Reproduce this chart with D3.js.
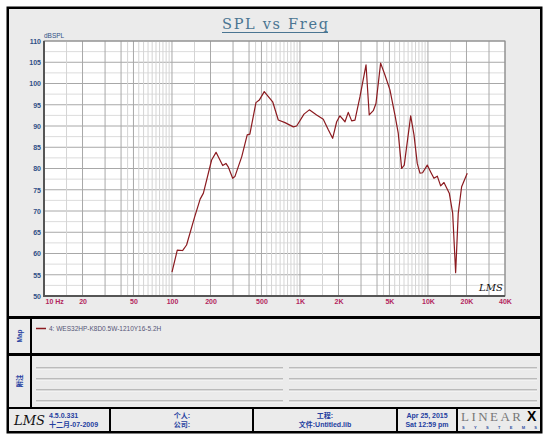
<!DOCTYPE html>
<html>
<head>
<meta charset="utf-8">
<script src="https://cdn.jsdelivr.net/npm/d3@7"></script>
<style>
  body { margin: 0; background: #fff; }
  svg text { font-family: "Liberation Sans", Arial, sans-serif; }
  .yax text { fill: #2f4f86; font-size: 7px; font-weight: bold; }
  .xax text { fill: #b3265e; font-size: 7px; font-weight: bold; }
  .yax path, .xax path, .yax line, .xax line { display: none; }
  .foot { fill: #2440a0; font-size: 7px; font-weight: bold; }
</style>
</head>
<body>
<svg id="chart" width="550" height="440"></svg>
<script>
// frequency response
const freqHz = [100, 110, 121, 130, 150, 166, 176, 204, 221, 249, 264, 275, 298, 310, 351, 387, 406, 453, 481, 526,
  612, 677, 764, 887, 942, 1075, 1183, 1350, 1521, 1665, 1800, 1936, 2053, 2249, 2384, 2535, 2690, 2944, 3282, 3477,
  3740, 3925, 4268, 4613, 5047, 5520, 5860, 6232, 6530, 7330, 7780, 8250, 8660, 9080, 9880, 10500, 11140, 11830,
  12570, 13340, 14680, 15600, 16460, 17250, 18330, 20280];
const splDb = [55.6, 60.8, 60.7, 62, 68.5, 72.8, 74.2, 82, 83.8, 80.7, 81.2, 80.4, 77.7, 78.1, 82.8, 87.9, 88.1, 95.5, 96.1, 98.1,
  95.7, 91.4, 90.8, 89.8, 90, 92.8, 93.8, 92.6, 91.6, 89.1, 87.1, 91, 92.4, 91, 93.2, 91.2, 91.4, 96.9, 104.4, 92.6,
  93.6, 95.3, 104.8, 102, 98.5, 92.6, 88.3, 80, 80.8, 92.4, 87.9, 81.2, 78.9, 79, 80.8, 79.2, 77.7, 78.2,
  75.9, 76.7, 74.2, 69.5, 55.5, 69.5, 75.7, 78.9];

const yTicks = [50, 55, 60, 65, 70, 75, 80, 85, 90, 95, 100, 105, 110];
const xTickVals = [10, 20, 50, 100, 200, 500, 1000, 2000, 5000, 10000, 20000, 40000];
const xTickLabels = ['10  Hz', '20', '50', '100', '200', '500', '1K', '2K', '5K', '10K', '20K', '40K'];
const gridMult = [1, 1.5, 2, 3, 4, 4.5, 5, 5.5, 6, 6.5, 7, 7.5, 8, 8.5, 9, 9.5];
const legendLabel = '4: WES32HP-K8D0.5W-1210Y16-5.2H';

const svg = d3.select('#chart');

// outer frame and panels
svg.append('rect').attr('x', 8).attr('y', 8).attr('width', 533).attr('height', 424)
  .attr('fill', '#ebebeb').attr('stroke', '#000').attr('stroke-width', 3);

const panels = [[8, 8, 533, 309], [8, 318, 533, 36], [8, 355, 533, 53], [8, 408, 533, 24]];
panels.forEach(p => {
  svg.append('rect').attr('x', p[0]).attr('y', p[1]).attr('width', p[2]).attr('height', p[3])
    .attr('fill', '#ebebeb').attr('stroke', '#000').attr('stroke-width', 2);
});
// vertical dividers
[[31, 318, 354], [31, 355, 408], [110, 408, 432], [253, 408, 432], [397, 408, 432], [457, 408, 432]].forEach(d => {
  svg.append('line').attr('x1', d[0]).attr('x2', d[0]).attr('y1', d[1]).attr('y2', d[2])
    .attr('stroke', '#000').attr('stroke-width', 2);
});

// plot
const x = d3.scaleLog().domain([10, 40000]).range([44, 505]);
const y = d3.scaleLinear().domain([50, 110]).range([296, 41]);

svg.append('rect').attr('x', 44).attr('y', 41).attr('width', 461).attr('height', 255).attr('fill', '#fff');

// horizontal grid
const g = svg.append('g');
d3.range(50, 110.1, 2.5).forEach(v => {
  const major = v % 5 === 0;
  g.append('line').attr('x1', 44).attr('x2', 505).attr('y1', y(v)).attr('y2', y(v))
    .attr('stroke', major ? '#a8a8a8' : '#dcdcdc').attr('stroke-width', 1);
});
// vertical grid
[10, 100, 1000, 10000].forEach(dec => {
  gridMult.forEach(m => {
    const f = dec * m;
    if (f > 40000) return;
    const dark = [1, 2, 3, 4, 5].includes(m);
    g.append('line').attr('x1', x(f)).attr('x2', x(f)).attr('y1', 41).attr('y2', 296)
      .attr('stroke', dark ? '#a8a8a8' : '#d4d4d4').attr('stroke-width', 1);
  });
});

// plot border
svg.append('rect').attr('x', 44).attr('y', 41).attr('width', 461).attr('height', 255)
  .attr('fill', 'none').attr('stroke', '#888').attr('stroke-width', 1);
svg.append('path').attr('d', 'M44,41V296H505').attr('fill', 'none').attr('stroke', '#555').attr('stroke-width', 2);

// axes labels
svg.append('g').attr('class', 'yax').attr('transform', 'translate(44,0)')
  .call(d3.axisLeft(y).tickValues(yTicks).tickSize(0).tickPadding(3).tickFormat(d3.format('d')));

const xa = svg.append('g').attr('class', 'xax').attr('transform', 'translate(0,296)')
  .call(d3.axisBottom(x).tickValues(xTickVals).tickSize(0).tickPadding(3)
    .tickFormat((d, i) => xTickLabels[i]));
xa.selectAll('text').filter((d, i) => i === 0).attr('text-anchor', 'start').attr('dx', 1);

svg.append('text').attr('x', 44).attr('y', 38).attr('fill', '#2f4f86')
  .style('font-size', '6.5px').text('dBSPL');

// curve
const pts = freqHz.map((f, i) => [f, splDb[i]]);
svg.append('path').datum(pts)
  .attr('d', d3.line().x(d => x(d[0])).y(d => y(d[1])))
  .attr('fill', 'none').attr('stroke', '#8b1a1f').attr('stroke-width', 1.2)
  .attr('stroke-linejoin', 'round');

// title
svg.append('text').attr('x', 222).attr('y', 29).attr('fill', '#4a7592')
  .attr('textLength', 106).attr('lengthAdjust', 'spacing')
  .style('font-family', '"DejaVu Serif", serif').style('font-size', '14.5px').text('SPL vs Freq');
svg.append('line').attr('x1', 222).attr('x2', 328).attr('y1', 32.5).attr('y2', 32.5)
  .attr('stroke', '#4a7592').attr('stroke-width', 1);

// LMS marks
svg.append('text').attr('x', 479).attr('y', 291).attr('fill', '#111')
  .style('font-family', '"DejaVu Serif", serif').style('font-style', 'italic').style('font-size', '10px').text('LMS');
svg.append('text').attr('x', 14).attr('y', 425).attr('fill', '#111')
  .attr('textLength', 31).attr('lengthAdjust', 'spacingAndGlyphs')
  .style('font-family', '"DejaVu Serif", serif').style('font-style', 'italic').style('font-size', '13px').text('LMS');

// map row
svg.append('line').attr('x1', 36).attr('x2', 46).attr('y1', 328.5).attr('y2', 328.5)
  .attr('stroke', '#8b1a1f').attr('stroke-width', 1.5);
svg.append('text').attr('x', 49).attr('y', 331).attr('fill', '#555577')
  .style('font-size', '6.5px').text(legendLabel);
svg.append('text').attr('transform', 'translate(22,336) rotate(-90)').attr('text-anchor', 'middle')
  .attr('class', 'foot').style('font-size', '6.5px').text('Map');
svg.append('text').attr('transform', 'translate(22,381) rotate(-90)').attr('text-anchor', 'middle')
  .attr('class', 'foot').style('font-size', '6.5px').style('font-family', '"Noto Sans CJK SC"').text('附注');

// notes lines
[368, 379, 390, 401].forEach(ly => {
  [[36, 283], [289, 537]].forEach(s => {
    svg.append('line').attr('x1', s[0]).attr('x2', s[1]).attr('y1', ly).attr('y2', ly)
      .attr('stroke', '#8a8a8a').attr('stroke-width', 1);
    svg.append('line').attr('x1', s[0]).attr('x2', s[1]).attr('y1', ly + 1).attr('y2', ly + 1)
      .attr('stroke', '#fafafa').attr('stroke-width', 1);
  });
});

// footer
const foot = [[49, 418, 'start', '4.5.0.331'], [49, 427, 'start', '十二月-07-2009'],
  [182, 418, 'middle', '个人:'], [182, 427, 'middle', '公司:'],
  [325, 418, 'middle', '工程:'], [325, 427, 'middle', '文件:Untitled.lib'],
  [427, 418, 'middle', 'Apr 25, 2015'], [427, 427, 'middle', 'Sat 12:59 pm']];
foot.forEach(t => {
  svg.append('text').attr('class', 'foot').attr('x', t[0]).attr('y', t[1]).attr('text-anchor', t[2])
    .style('font-family', '"Liberation Sans", "Noto Sans CJK SC", sans-serif').text(t[3]);
});

svg.append('text').attr('x', 461).attr('y', 421).attr('fill', '#777')
  .attr('textLength', 60).attr('lengthAdjust', 'spacing')
  .style('font-family', '"Liberation Serif", serif').style('font-size', '13px').text('LINEAR');
svg.append('text').attr('x', 527).attr('y', 421).attr('fill', '#000')
  .style('font-family', '"Liberation Sans", sans-serif').style('font-weight', 'bold').style('font-size', '14px').text('X');
svg.append('text').attr('x', 462).attr('y', 429).attr('fill', '#3050a0')
  .attr('textLength', 75).attr('lengthAdjust', 'spacing')
  .style('font-size', '4px').style('font-weight', 'bold').text('SYSTEMS');
</script>
</body>
</html>
